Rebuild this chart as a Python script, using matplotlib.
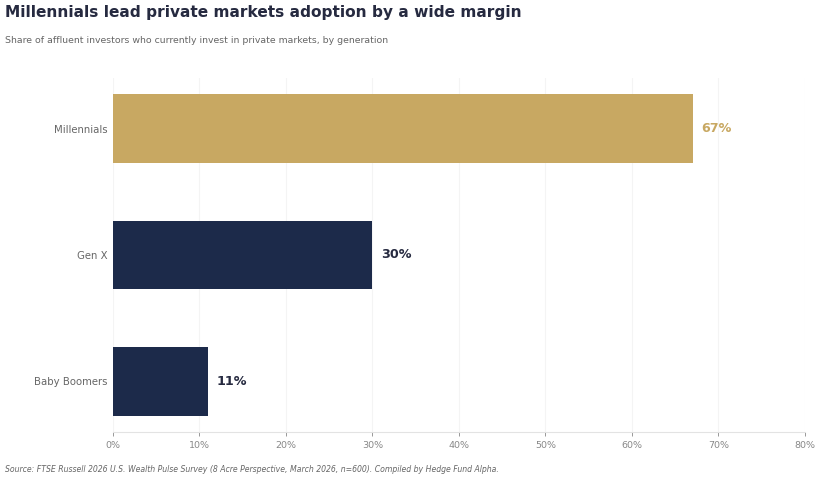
import matplotlib
matplotlib.use("Agg")
import matplotlib.pyplot as plt
from matplotlib.ticker import FuncFormatter, MultipleLocator

categories = ["Millennials", "Gen X", "Baby Boomers"]
values = [67, 30, 11]
colors = ["#C8A862", "#1C2A4A", "#1C2A4A"]
label_colors = ["#C8A862", "#262A40", "#262A40"]

fig = plt.figure(figsize=(8.2, 4.8), dpi=100)
ax = fig.add_axes([0.1378, 0.1, 0.8439, 0.7375])

ypos = [2, 1, 0]
ax.barh(ypos, values, height=0.54, color=colors, zorder=2)
for y, v, c in zip(ypos, values, label_colors):
    ax.text(v + 1.0, y, f"{v}%", va="center", ha="left", fontsize=9.2,
            fontweight="bold", color=c)

ax.set_xlim(0, 80)
ax.set_ylim(-0.4, 2.4)
ax.set_yticks(ypos)
ax.set_yticklabels(categories, fontsize=7.3, color="#666666")
ax.xaxis.set_major_locator(MultipleLocator(10))
ax.xaxis.set_major_formatter(FuncFormatter(lambda x, p: f"{int(x)}%"))
ax.tick_params(axis="x", labelsize=6.8, colors="#888888", length=3, width=0.6)
ax.tick_params(axis="y", length=0, pad=4)
for s in ["top", "right", "left"]:
    ax.spines[s].set_visible(False)
ax.spines["bottom"].set_color("#e3e3e3")
ax.spines["bottom"].set_linewidth(0.8)
ax.grid(axis="x", color="#f4f4f4", linewidth=0.8, zorder=0)
ax.set_axisbelow(True)

fig.text(0.006, 0.974, "Millennials lead private markets adoption by a wide margin",
         fontsize=11.1, fontweight="bold", color="#262A40", va="center", ha="left")
fig.text(0.006, 0.915, "Share of affluent investors who currently invest in private markets, by generation",
         fontsize=6.75, color="#666666", va="center", ha="left")
fig.text(0.006, 0.022, "Source: FTSE Russell 2026 U.S. Wealth Pulse Survey (8 Acre Perspective, March 2026, n=600). Compiled by Hedge Fund Alpha.",
         fontsize=5.6, style="italic", color="#666666", va="center", ha="left")

fig.savefig("out.png", dpi=100, facecolor="white")
